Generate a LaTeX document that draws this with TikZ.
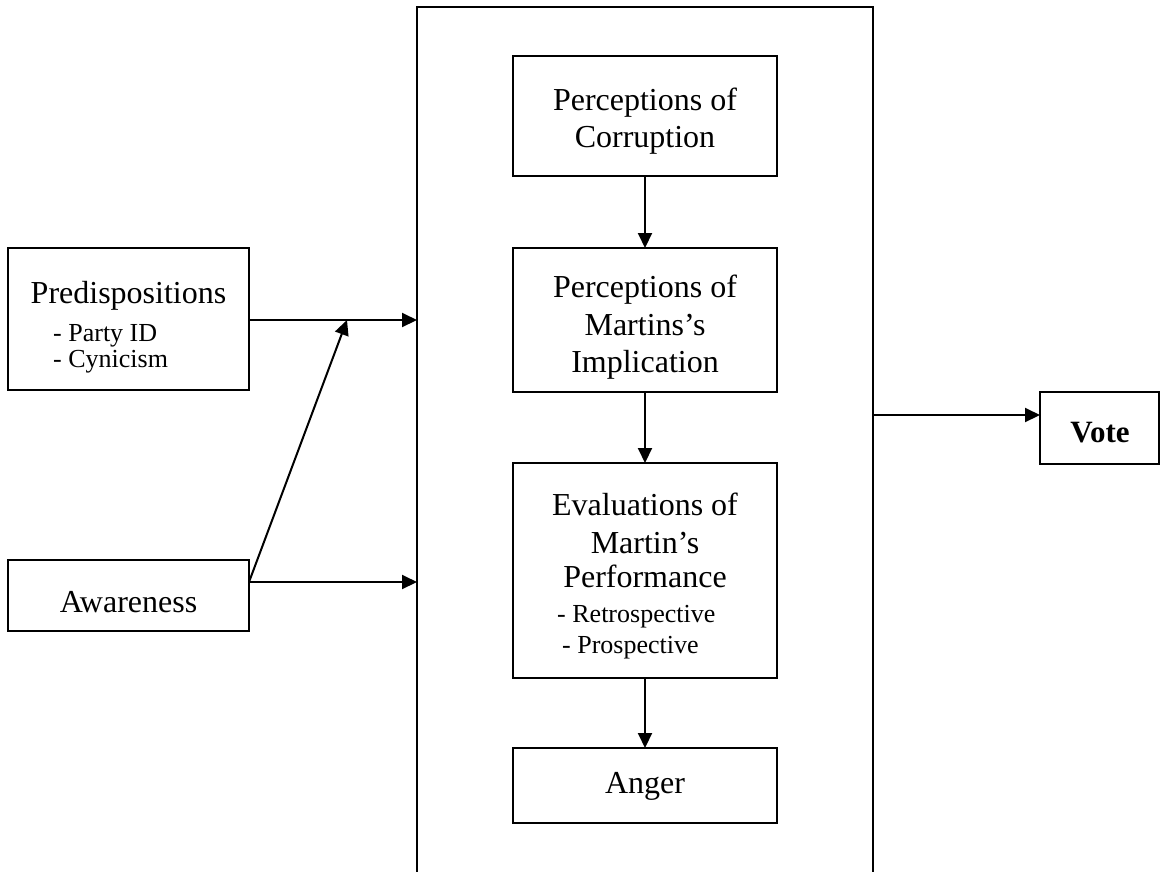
\documentclass[tikz,border=0pt]{standalone}
\usepackage{fontspec}
\setmainfont{Liberation Serif}
\usetikzlibrary{arrows.meta}
\tikzset{
  box/.style={draw, line width=2.4pt, inner sep=0pt, outer sep=0pt},
  big/.style={font=\fontsize{32}{37}\selectfont, inner sep=0pt, anchor=base},
  small/.style={font=\fontsize{26}{30}\selectfont, inner sep=0pt, anchor=base west},
  arr/.style={line width=2pt, -{Triangle[length=15pt,width=14pt]}},
  conn/.style={line width=2pt}
}
\begin{document}
\begin{tikzpicture}[x=1pt,y=-1pt]
\useasboundingbox (0,0) rectangle (1161,871);
% big container, open at the bottom
\node[box, minimum width=456pt, minimum height=950pt] (cont) at (645,482) {};
% inner boxes
\node[box, minimum width=264pt, minimum height=120pt] (corr) at (645,116) {};
\node[box, minimum width=264pt, minimum height=144pt] (impl) at (645,320) {};
\node[box, minimum width=264pt, minimum height=215pt] (eval) at (645,570.5) {};
\node[box, minimum width=264pt, minimum height=75pt] (anger) at (645,785.5) {};
% left boxes
\node[box, minimum width=241pt, minimum height=142pt] (pred) at (128.5,319) {};
\node[box, minimum width=241pt, minimum height=71pt] (aw) at (128.5,595.5) {};
% vote
\node[box, minimum width=119pt, minimum height=72pt] (vote) at (1099.5,428) {};

% texts
\node[big] (t1) at (645,110) {Perceptions of};
\node[big] (t2) at (645,147) {Corruption};
\node[big] (t3) at (645,297) {Perceptions of};
\node[big] (t4) at (645,335) {Martins’s};
\node[big] (t5) at (645,372) {Implication};
\node[big] (t6) at (645,515) {Evaluations of};
\node[big] (t7) at (645,553) {Martin’s};
\node[big] (t8) at (645,587) {Performance};
\node[small] (t9) at (557,622) {- Retrospective};
\node[small] (t10) at (562,653) {- Prospective};
\node[big] (t11) at (645,793) {Anger};
\node[big] (t12) at (128.5,303) {Predispositions};
\node[small] (t13) at (53,341) {- Party ID};
\node[small] (t14) at (53,367) {- Cynicism};
\node[big] (t15) at (128.5,612) {Awareness};
\node[big, font=\fontsize{31}{36}\selectfont\bfseries] (t16) at (1100,442) {Vote};

% connectors
\draw[arr] (corr.south) -- (impl.north);
\draw[arr] (impl.south) -- (eval.north);
\draw[arr] (eval.south) -- (anger.north);

\coordinate (p1) at (pred.east |- 0,320);
\coordinate (a1) at (aw.east |- 0,582);
\coordinate (j) at (347,320);
\coordinate (v1) at (cont.east |- 0,415);

\draw[arr] (p1) -- (p1 -| cont.west);
\draw[arr] (a1) -- (a1 -| cont.west);
\draw[arr] (a1) -- (j);
\draw[arr] (v1) -- (v1 -| vote.west);
\end{tikzpicture}
\end{document}
